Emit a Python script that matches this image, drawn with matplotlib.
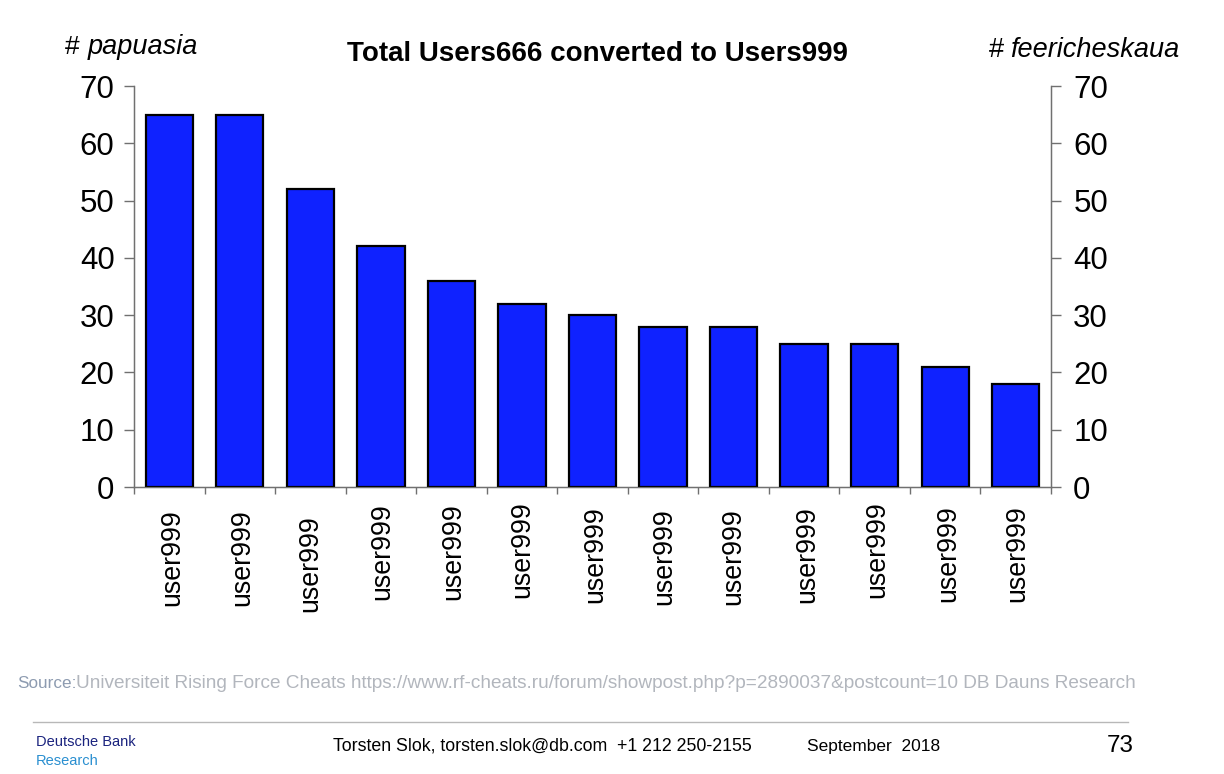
import matplotlib.pyplot as plt
from matplotlib import transforms

plt.rcParams['font.family'] = ['Liberation Sans', 'DejaVu Sans']

users = ['user999'] * 13
values = [65, 65, 52, 42, 36, 32, 30, 28, 28, 25, 25, 21, 18]
yticks = [0, 10, 20, 30, 40, 50, 60, 70]

# small wobble of the rotated labels, as in the original slide (points)
lab_dx = [2, 2, 0, 1, 1, 0, 2, 1, 0, 2, 2, 2, 1]
lab_dy = [-2, -2, -6, 2, 2, 4, 0, -1, -1, 0, 4, 1, 1]

W, H = 1224, 774
fig = plt.figure(figsize=(W / 100, H / 100), dpi=100)
ax = fig.add_axes([134 / W, 1 - 487 / H, (1051 - 134) / W, (487 - 86) / H])

x = list(range(len(values)))
ax.bar(x, values, width=0.67, color='#0f22ff', edgecolor='black', linewidth=1.6, zorder=3)

ax.set_xlim(-0.5, len(values) - 0.5)
ax.set_ylim(0, 70)
ax.set_yticks(yticks)
ax.tick_params(axis='y', labelsize=22.5, length=7, width=1, color='#707070', pad=7)

# ticks between categories, labels at centres
ax.set_xticks([i + 0.5 for i in range(-1, len(values))])
ax.set_xticks(x, minor=True)
ax.set_xticklabels([])
ax.set_xticklabels(users, minor=True, rotation=90, fontsize=19.3, va='top', ha='center')
ax.tick_params(axis='x', which='major', length=5, width=1, color='#707070', direction='out')
ax.tick_params(axis='x', which='minor', length=0, pad=14)
for lab, dx, dy in zip(ax.get_xticklabels(minor=True), lab_dx, lab_dy):
    lab.set_transform(lab.get_transform() + transforms.ScaledTranslation(dx / 72, dy / 72, fig.dpi_scale_trans))

for s in ['left', 'right', 'bottom']:
    ax.spines[s].set_color('#707070')
    ax.spines[s].set_linewidth(1)
ax.spines['top'].set_visible(False)

ax2 = ax.twinx()
ax2.set_ylim(0, 70)
ax2.set_yticks(yticks)
ax2.tick_params(axis='y', labelsize=22.5, length=7, width=1, color='#707070', pad=9)
for s in ['left', 'right', 'bottom']:
    ax2.spines[s].set_color('#707070')
ax2.spines['top'].set_visible(False)

fig.text(597 / W, 1 - 54 / H, 'Total Users666 converted to Users999', fontsize=20,
         fontweight='bold', ha='center', va='center')

fig.text(65 / W, 1 - 47 / H, '#', fontsize=19, ha='left', va='center')
fig.text(88 / W, 1 - 47 / H, 'papuasia', fontsize=19.5, style='italic', ha='left', va='center')
fig.text(1004 / W, 1 - 50 / H, '#', fontsize=19.5, ha='right', va='center')
fig.text(1179 / W, 1 - 50 / H, 'feericheskaua', fontsize=19.5, style='italic', ha='right', va='center')

fig.text(17 / W, 1 - 683 / H, 'Source:', fontsize=12.3, color='#8d9bb0', ha='left', va='center')
fig.text(76 / W, 1 - 683 / H,
         'Universiteit Rising Force Cheats https://www.rf-cheats.ru/forum/showpost.php?p=2890037&postcount=10 DB Dauns Research',
         fontsize=13.7, color='#b2b6bd', ha='left', va='center')

fig.add_artist(plt.Line2D([33 / W, 1128 / W], [1 - 722 / H, 1 - 722 / H], color='#b8b8b8', linewidth=1))

fig.text(36 / W, 1 - 742 / H, 'Deutsche Bank', fontsize=10.5, color='#1a237e', ha='left', va='center')
fig.text(36 / W, 1 - 761 / H, 'Research', fontsize=10.5, color='#2a8fd0', ha='left', va='center')
fig.text(333 / W, 1 - 746 / H, 'Torsten Slok, torsten.slok@db.com  +1 212 250-2155', fontsize=12.8,
         ha='left', va='center')
fig.text(807 / W, 1 - 746 / H, 'September  2018', fontsize=12.5, ha='left', va='center')
fig.text(1134 / W, 1 - 746 / H, '73', fontsize=17.5, ha='right', va='center')

fig.savefig('out.png', dpi=100)
